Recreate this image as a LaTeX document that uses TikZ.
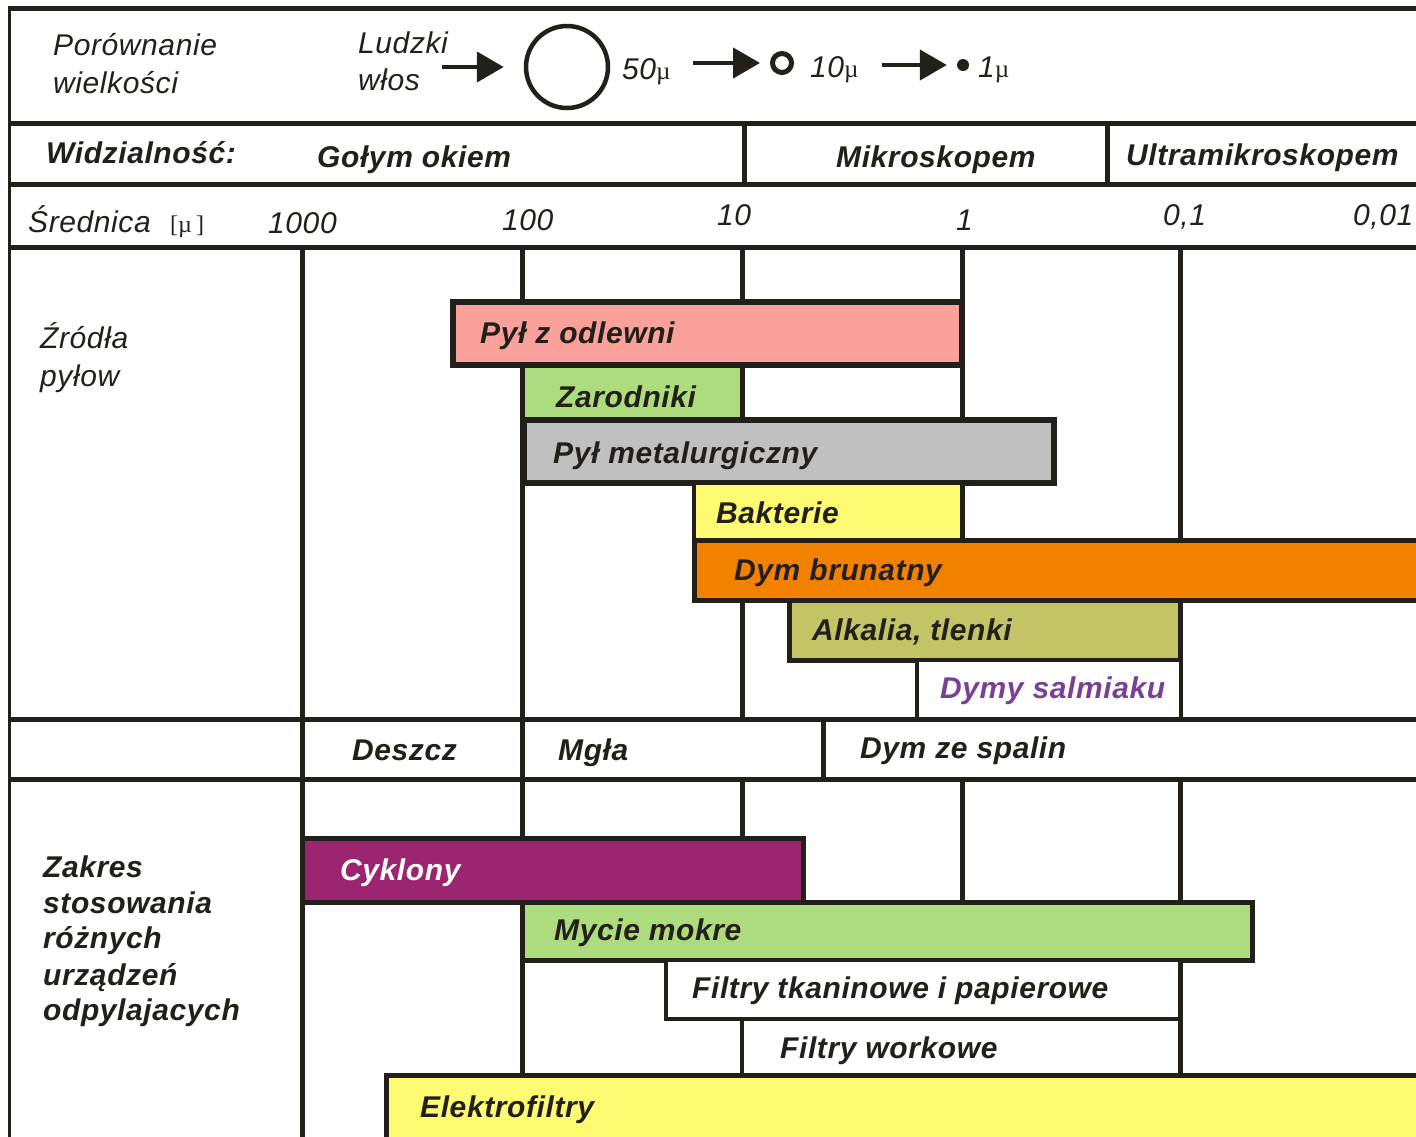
\documentclass[tikz,border=0pt]{standalone}
\usepackage{fontspec}
\setmainfont{Liberation Sans}[LetterSpace=2]
\newfontfamily\mufont{Liberation Serif}
\usetikzlibrary{arrows.meta}
\definecolor{ink}{RGB}{35,31,26}
\definecolor{pinkbar}{RGB}{249,161,154}
\definecolor{greenbar}{RGB}{173,220,126}
\definecolor{graybar}{RGB}{192,192,192}
\definecolor{yellowbar}{RGB}{254,250,114}
\definecolor{orangebar}{RGB}{242,129,0}
\definecolor{olivebar}{RGB}{194,196,102}
\definecolor{purplebar}{RGB}{156,37,113}
\definecolor{purpletext}{RGB}{123,63,148}
\newcommand{\umicro}{{\mufont\upshape\fontsize{25}{30}\selectfont µ}}
\begin{document}
\begin{tikzpicture}[x=1pt,y=-1pt,
  gridline/.style={draw=ink,line width=5pt},
  barbox/.style={draw=ink,line width=5pt},
  txt/.style={anchor=base west,inner sep=0pt,text=ink,font=\fontsize{30}{36}\selectfont\itshape},
  btxt/.style={anchor=base west,inner sep=0pt,text=ink,font=\fontsize{30}{36}\selectfont\bfseries\itshape},
  arr/.style={draw=ink,line width=4.5pt,-{Triangle[length=27pt,width=30pt]}}]
\clip (0,0) rectangle (1416,1136);
\fill[white] (0,0) rectangle (1416,1136);

% frame and row separators
\draw[draw=ink,line width=3pt] (9.5,8.5) -- (9.5,1140);
\foreach \yy in {8.5,123.5,184.5,247,719,779}
  \draw[gridline] (8,\yy) -- (1420,\yy);

% visibility dividers
\draw[gridline] (744,123.5) -- (744,184.5);
\draw[gridline] (1107,123.5) -- (1107,184.5);

% decade lines
\draw[gridline] (302,247) -- (302,1140);
\draw[gridline] (522,247) -- (522,1075);
\foreach \xx in {742,962,1180} {
  \draw[gridline] (\xx,247) -- (\xx,719);
  \draw[gridline] (\xx,779) -- (\xx,1075);
}
\draw[gridline] (823,719) -- (823,779);

% dust sources
\draw[barbox,fill=pinkbar,line width=6pt] (453,302) rectangle (962,365);
\draw[barbox,fill=greenbar] (522,365) rectangle (742,420);
\draw[barbox,fill=graybar,line width=6pt] (524,420) rectangle (1054,483);
\draw[barbox,fill=yellowbar,line width=4pt] (694,483) rectangle (962,540);
\draw[barbox,fill=orangebar] (694,540) rectangle (1430,600);
\draw[barbox,fill=olivebar] (789,600) rectangle (1180,660);
\draw[barbox,fill=white,line width=4pt] (917,660) rectangle (1181,719);

% dust collectors
\draw[barbox,fill=purplebar] (302,838) rectangle (803,902);
\draw[barbox,fill=greenbar] (522,902) rectangle (1252,960);
\draw[barbox,fill=white,line width=4pt] (666,960) rectangle (1180,1019);
\draw[barbox,fill=white,line width=4pt] (742,1019) rectangle (1180,1075);
\draw[barbox,fill=yellowbar] (386,1075) rectangle (1430,1150);

% size comparison
\node[txt] (por1) at (53,55) {Porównanie};
\node[txt] (por2) at (53,93) {wielkości};
\node[txt] (wlos1) at (358,53) {Ludzki};
\node[txt] (wlos2) at (358,90) {włos};
\node[circle,draw=ink,line width=4.5pt,minimum size=82pt,inner sep=0pt] (hair) at (567,67) {};
\node[circle,draw=ink,line width=5pt,minimum size=19pt,inner sep=0pt] (p10) at (782,63) {};
\node[circle,fill=ink,minimum size=12pt,inner sep=0pt] (p1) at (963,65) {};
\coordinate (a1) at (442,67);
\coordinate (a2) at (693,63);
\coordinate (a3) at (882,65);
\draw[arr,shorten >=20pt] (a1) -- (hair.west);
\draw[arr,shorten >=10pt] (a2) -- (p10.west);
\draw[arr,shorten >=10pt] (a3) -- (p1.west);
\node[txt] (s50) at (622,79) {50\umicro};
\node[txt] (s10) at (810,77) {10\umicro};
\node[txt] (s1) at (978,77) {1\umicro};

% visibility row
\node[btxt] (widz) at (46,163) {Widzialność:};
\node[btxt] (golym) at (317,167) {Gołym okiem};
\node[btxt] (mikro) at (836,167) {Mikroskopem};
\node[btxt] (ultra) at (1126,165) {Ultramikroskopem};

% diameter scale
\node[txt] (sred) at (28,232) {Średnica};
\node[anchor=base west,inner sep=0pt,text=ink,font=\mufont\fontsize{24}{30}\selectfont] (unit) at (170,232) {[µ\,]};
\node[txt] (d1000) at (268,233) {1000};
\node[txt] (d100) at (502,230) {100};
\node[txt] (d10) at (717,225) {10};
\node[txt] (d1) at (956,230) {1};
\node[txt] (d01) at (1163,225) {0,1};
\node[txt] (d001) at (1353,225) {0,01};

% section labels
\node[txt] (zr1) at (40,348) {Źródła};
\node[txt] (zr2) at (40,386) {pyłow};
\node[btxt] (zak1) at (43,877) {Zakres};
\node[btxt] (zak2) at (43,913) {stosowania};
\node[btxt] (zak3) at (43,948) {różnych};
\node[btxt] (zak4) at (43,985) {urządzeń};
\node[btxt] (zak5) at (43,1020) {odpylajacych};

% bar labels
\node[btxt] (odl) at (480,343) {Pył z odlewni};
\node[btxt] (zar) at (556,407) {Zarodniki};
\node[btxt] (met) at (553,463) {Pył metalurgiczny};
\node[btxt] (bak) at (716,523) {Bakterie};
\node[btxt] (dym) at (734,580) {Dym brunatny};
\node[btxt] (alk) at (812,640) {Alkalia, tlenki};
\node[btxt,text=purpletext] (sal) at (940,698) {Dymy salmiaku};
\node[btxt] (desz) at (352,760) {Deszcz};
\node[btxt] (mgla) at (558,760) {Mgła};
\node[btxt] (spal) at (860,758) {Dym ze spalin};
\node[btxt,text=white] (cyk) at (340,880) {Cyklony};
\node[btxt] (myc) at (554,940) {Mycie mokre};
\node[btxt] (tka) at (692,998) {Filtry tkaninowe i papierowe};
\node[btxt] (wor) at (780,1058) {Filtry workowe};
\node[btxt] (ele) at (420,1117) {Elektrofiltry};
\end{tikzpicture}
\end{document}
